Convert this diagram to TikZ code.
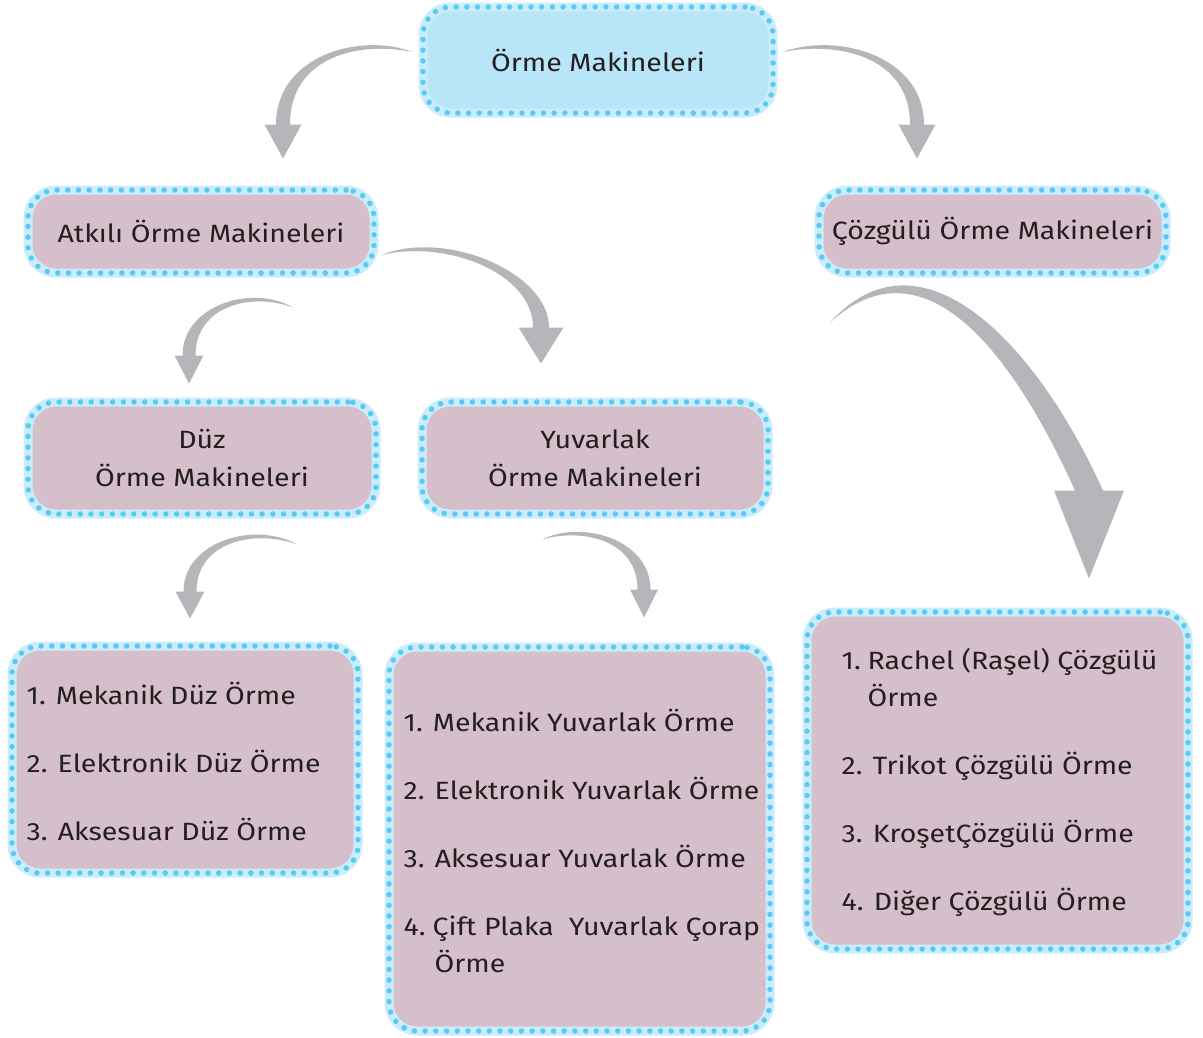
\documentclass[tikz,border=0pt]{standalone}
\usepackage{fontspec}
\setmainfont{Fira Sans}[FakeStretch=1.14]
\usetikzlibrary{calc}
\definecolor{topfill}{HTML}{B9E5F8}
\definecolor{boxfill}{HTML}{D5BFCA}
\definecolor{band}{HTML}{C9EDFB}
\definecolor{dotc}{HTML}{5CC8F5}
\definecolor{agray}{HTML}{B5B6B9}
\definecolor{txt}{HTML}{231F20}
\tikzset{
 box/.style={rectangle, rounded corners=28pt, fill=boxfill, draw=band, line width=9pt,
   inner sep=0pt, text=txt, align=center, font=\fontsize{25}{38}\selectfont,
   postaction={draw=dotc, line width=5.5pt, dash pattern=on 0pt off 10.7pt, line cap=round}},
 topbox/.style={box, fill=topfill},
 listtext/.style={anchor=west, inner sep=0pt, align=left, text=txt, font=\fontsize{25}{37}\selectfont},
}
% tapered curved arrow, leftward / rightward
% #1 start, #2 C1 offset from start, #3 C2 offset from base, #4 base centre, #5 half shaft, #6 half head, #7 head length
\newcommand\tarrowL[7]{%
 \coordinate (tS) at #1; \coordinate (tB) at #4;
 \coordinate (tC) at ($(tS)+#2$); \coordinate (tD) at ($(tB)+#3$);
 \fill[agray] (tS) .. controls (tC) and ($(tD)+(-#5,0)$) .. ($(tB)+(-#5,0)$) -- ($(tB)+(-#6,0)$)
   -- ($(tB)+(0,#7)$) -- ($(tB)+(#6,0)$) -- ($(tB)+(#5,0)$)
   .. controls ($(tD)+(#5,0)$) and ($(tC)+(0,1.3*#5)$) .. (tS) -- cycle;}
\newcommand\tarrowR[7]{%
 \coordinate (tS) at #1; \coordinate (tB) at #4;
 \coordinate (tC) at ($(tS)+#2$); \coordinate (tD) at ($(tB)+#3$);
 \fill[agray] (tS) .. controls ($(tC)+(0,1.3*#5)$) and ($(tD)+(-#5,0)$) .. ($(tB)+(-#5,0)$) -- ($(tB)+(-#6,0)$)
   -- ($(tB)+(0,#7)$) -- ($(tB)+(#6,0)$) -- ($(tB)+(#5,0)$)
   .. controls ($(tD)+(#5,0)$) and (tC) .. (tS) -- cycle;}
\begin{document}
\begin{tikzpicture}[x=1pt,y=-1pt]
\useasboundingbox[fill=white] (0,0) rectangle (1203,1037);
% boxes
\node[topbox, minimum width=350pt, minimum height=106pt] (top) at (598,60) {Örme Makineleri};
\node[box, minimum width=346pt, minimum height=83pt] (atk) at (201,231.5) {Atkılı Örme Makineleri};
\node[box, minimum width=347pt, minimum height=83pt] (coz) at (992.5,231.5) {Çözgülü Örme Makineleri};
\node[box, minimum width=348pt, minimum height=112pt] (duz) at (202,458) {Düz\\Örme Makineleri};
\node[box, minimum width=346pt, minimum height=112pt] (yuv) at (595,458) {Yuvarlak\\Örme Makineleri};
\node[box, minimum width=346pt, minimum height=227pt] (l1) at (185,759.5) {};
\node[box, minimum width=381pt, minimum height=384pt] (l2) at (579.5,839) {};
\node[box, minimum width=381pt, minimum height=337pt] (l3) at (997.5,780.5) {};
% list texts
\node[listtext] (l1t) at ($(l1.west)+(19,1.5)$) {1. Mekanik Düz Örme\\[31pt]2. Elektronik Düz Örme\\[31pt]3. Aksesuar Düz Örme};
\node[listtext] (l2t) at ($(l2.west)+(19,2)$) {1. Mekanik Yuvarlak Örme\\[31pt]2. Elektronik Yuvarlak Örme\\[31pt]3. Aksesuar Yuvarlak Örme\\[31pt]\makebox[29pt][l]{4.}Çift Plaka\ \ Yuvarlak Çorap\\\hspace*{31pt}Örme};
\node[listtext] (l3t) at ($(l3.west)+(39,1.5)$) {\makebox[26pt][l]{1.}Rachel (Raşel) Çözgülü\\\hspace*{26pt}Örme\\[31pt]2. Trikot Çözgülü Örme\\[31pt]3. KroşetÇözgülü Örme\\[31pt]4. Diğer Çözgülü Örme};
% arrows
\tarrowL{($(top.west)+(-6,-8)$)}{(-52,-20)}{(0,-69)}{($(atk.north)+(82,-61)$)}{7}{18.5}{34}
\tarrowR{($(top.east)+(5,-8)$)}{(54,-20)}{(0,-69)}{($(coz.north)+(-75.5,-61)$)}{7}{18.5}{34}
\tarrowR{($(atk.east)+(3,23.5)$)}{(64,-26)}{(0,-55)}{($(yuv.north)+(-54,-70)$)}{8}{22.5}{36}
\tarrowL{($(atk.south)+(92,30)$)}{(-41,-24)}{(0,-50)}{($(duz.north)+(-13,-42)$)}{6.5}{14.5}{28}
\tarrowL{($(duz.south)+(95,26)$)}{(-42,-24)}{(0,-50)}{($(l1.north)+(5,-50)$)}{6.5}{14.5}{27}
\tarrowR{($(yuv.south)+(-53,21)$)}{(40,-20)}{(0,-50)}{($(l2.north)+(64.5,-53)$)}{6.5}{14}{28}
\tarrowR{($(coz.south)+(-162.5,45)$)}{(90,-100)}{(-68,-150)}{($(l3.north)+(91.5,-117)$)}{14}{35}{88}
\end{tikzpicture}
\end{document}
